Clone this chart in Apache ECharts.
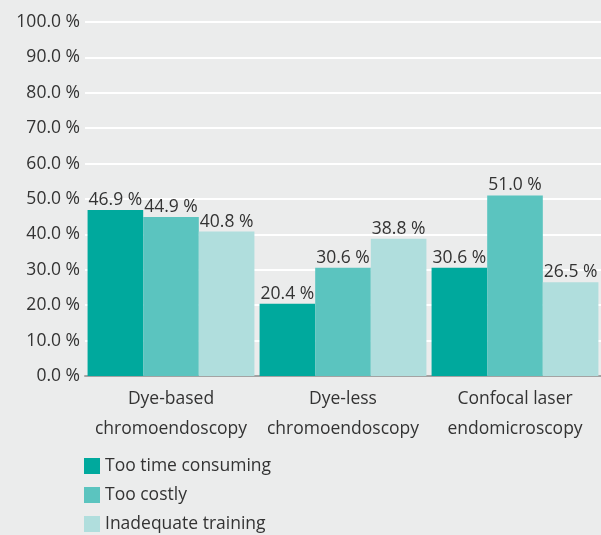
<!DOCTYPE html>
<html>
<head>
<meta charset="utf-8">
<script src="https://cdn.jsdelivr.net/npm/echarts@6/dist/echarts.min.js"></script>
<style>
html,body{margin:0;padding:0;background:#ebecec;}
#c{width:601px;height:535px;}
</style>
</head>
<body>
<div id="c"></div>
<script>
var categories = ['Dye-based\nchromoendoscopy', 'Dye-less\nchromoendoscopy', 'Confocal laser\nendomicroscopy'];
var seriesNames = ['Too time consuming', 'Too costly', 'Inadequate training'];
var timeConsuming = [46.9, 20.4, 30.6];
var tooCostly = [44.9, 30.6, 51.0];
var inadequateTraining = [40.8, 38.8, 26.5];
var yTicks = [0, 10, 20, 30, 40, 50, 60, 70, 80, 90, 100];

var colors = ['#00a99d', '#5bc4bf', '#b0dedd'];
var font = 'Open Sans';
var fs = 17.5;
var chart = echarts.init(document.getElementById('c'));
function mk(name, data, color) {
  return {
    name: name, type: 'bar', data: data, barGap: '0%', barCategoryGap: '3%',
    itemStyle: {color: color},
    label: {show: true, position: 'top', distance: 1, color: '#333', fontSize: fs, fontFamily: font,
      formatter: function (p) { return p.value.toFixed(1) + ' %'; }}
  };
}
chart.setOption({
  backgroundColor: '#ebecec',
  animation: false,
  color: colors,
  grid: {left: 85, right: 0, top: 22, bottom: 159},
  legend: {
    orient: 'vertical', left: 84, top: 457, height: 200, padding: 0,
    itemWidth: 16, itemHeight: 16, itemGap: 11,
    icon: 'rect', textStyle: {color: '#333', fontSize: fs, fontFamily: font},
    data: seriesNames
  },
  xAxis: {
    type: 'category', data: categories,
    axisLine: {lineStyle: {color: '#a3a3a3', width: 2}},
    axisTick: {show: false},
    axisLabel: {color: '#333', fontSize: fs, fontFamily: font, lineHeight: 30, margin: 8, interval: 0}
  },
  yAxis: {
    type: 'value', min: yTicks[0], max: yTicks[yTicks.length - 1], interval: 10,
    axisLine: {show: false}, axisTick: {show: false},
    splitLine: {lineStyle: {color: '#ffffff', width: 2}},
    axisLabel: {color: '#333', fontSize: fs, fontFamily: font, margin: 5,
      formatter: function (v) { return v.toFixed(1) + ' %'; }}
  },
  series: [
    mk(seriesNames[0], timeConsuming, colors[0]),
    mk(seriesNames[1], tooCostly, colors[1]),
    mk(seriesNames[2], inadequateTraining, colors[2])
  ]
});
</script>
</body>
</html>
